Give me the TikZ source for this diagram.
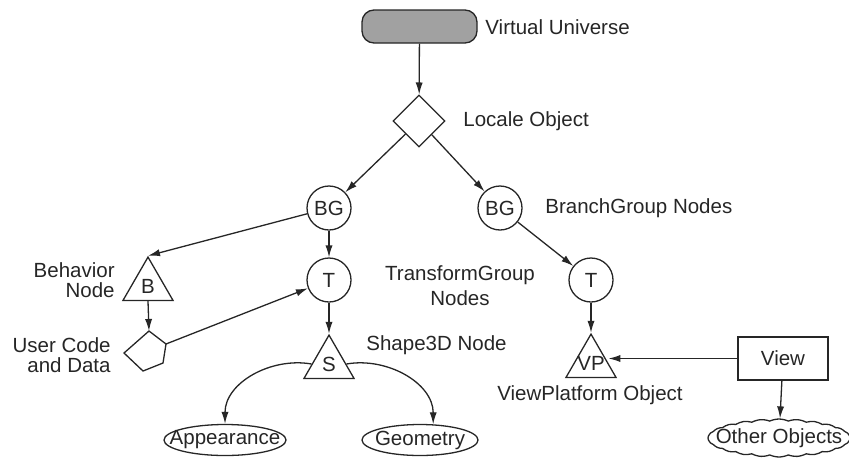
\documentclass[tikz,border=0pt]{standalone}
\usepackage{fontspec}
\setmainfont{Liberation Sans}
\usetikzlibrary{shapes.geometric,shapes.symbols,arrows.meta}
\tikzset{
  conn/.style={draw=black!85, line width=0.65pt},
  arr/.style={conn, -{Latex[length=6pt,width=3.6pt]}},
  shapebox/.style={draw=black!85, line width=0.65pt, inner sep=0pt},
  ring/.style={shapebox, circle, minimum size=22pt},
  wedge/.style={shapebox, regular polygon, regular polygon sides=3, minimum size=28.9pt},
  oval/.style={shapebox, ellipse, minimum height=15.5pt},
  txt/.style={inner sep=0pt}
}
\begin{document}
\begin{tikzpicture}[x=0.5pt, y=-0.5pt, font=\fontsize{10.25}{12}\selectfont, text=black!85]
\useasboundingbox (0,0) rectangle (849,466);
\definecolor{vugray}{gray}{0.63}
\node[shapebox, rounded corners=6pt, fill=vugray, minimum width=57.5pt, minimum height=16.5pt] (vu) at (419.5,26.5) {};
\node[txt, anchor=west] (vulbl) at (485,27) {Virtual Universe};
\node[shapebox, diamond, minimum width=26pt, minimum height=26pt] (loc) at (419,121) {};
\node[txt, anchor=west] (loclbl) at (463,121) {Locale Object};
\node[ring] (bga) at (329,208) {BG};
\node[ring] (bgb) at (500,208) {BG};
\node[txt, anchor=west] (bglbl) at (545,208) {BranchGroup Nodes};
\node[ring] (tga) at (329,280) {T};
\node[ring] (tgb) at (591,280) {T};
\node[txt, align=center, font=\fontsize{10.25}{12.5}\selectfont] (tglbl) at (460,286) {TransformGroup\\Nodes};
\node[wedge, label=center:B] (beh) at (148,286) {};
\node[txt, anchor=east, align=right, font=\fontsize{10.25}{10}\selectfont] (behlbl) at (115,280) {Behavior\\Node};
\coordinate (uctop) at (149,331);
\coordinate (ucright) at (166,344);
\draw[conn] (uctop) -- (ucright) -- (163,363) -- (143,371) -- (124,353) -- cycle;
\node[txt, anchor=east, align=right, font=\fontsize{10.25}{10}\selectfont] (uclbl) at (111,355) {User Code\\and Data};
\node[wedge, label=center:S] (shp) at (329,364) {};
\node[txt, anchor=west] (shplbl) at (366,345) {Shape3D Node};
\node[oval, minimum width=61pt, label=center:Appearance] (app) at (225,440) {};
\node[oval, minimum width=58pt, label=center:Geometry] (geo) at (420,440) {};
\node[wedge, label=center:VP] (vp) at (591,363) {};
\node[txt] (vplbl) at (590,395) {ViewPlatform Object};
\node[shapebox, minimum width=45pt, minimum height=21.5pt] (view) at (783,358.5) {View};
\node[shapebox, cloud, cloud puffs=24, cloud puff arc=50, cloud ignores aspect, minimum width=71pt, minimum height=19pt, label=center:Other Objects] (other) at (779,438) {};
\draw[arr] (vu) -- (loc);
\draw[arr] (loc) -- (bga);
\draw[arr] (loc) -- (bgb);
\draw[arr] (bga) -- (tga);
\draw[arr] (bga) -- (beh.north);
\draw[arr] (bgb) -- (tgb);
\draw[arr] (beh.south) -- (uctop);
\draw[arr] (ucright) -- (tga);
\draw[arr] (tga) -- (shp.north);
\draw[arr] (shp.west) to[out=170,in=90] (app.north);
\draw[arr] (shp.east) to[out=10,in=90] (geo.50);
\draw[arr] (tgb) -- (vp.north);
\draw[arr] (view.west) -- (view.west -| vp.east);
\draw[arr] (view) -- (other);
\end{tikzpicture}
\end{document}
